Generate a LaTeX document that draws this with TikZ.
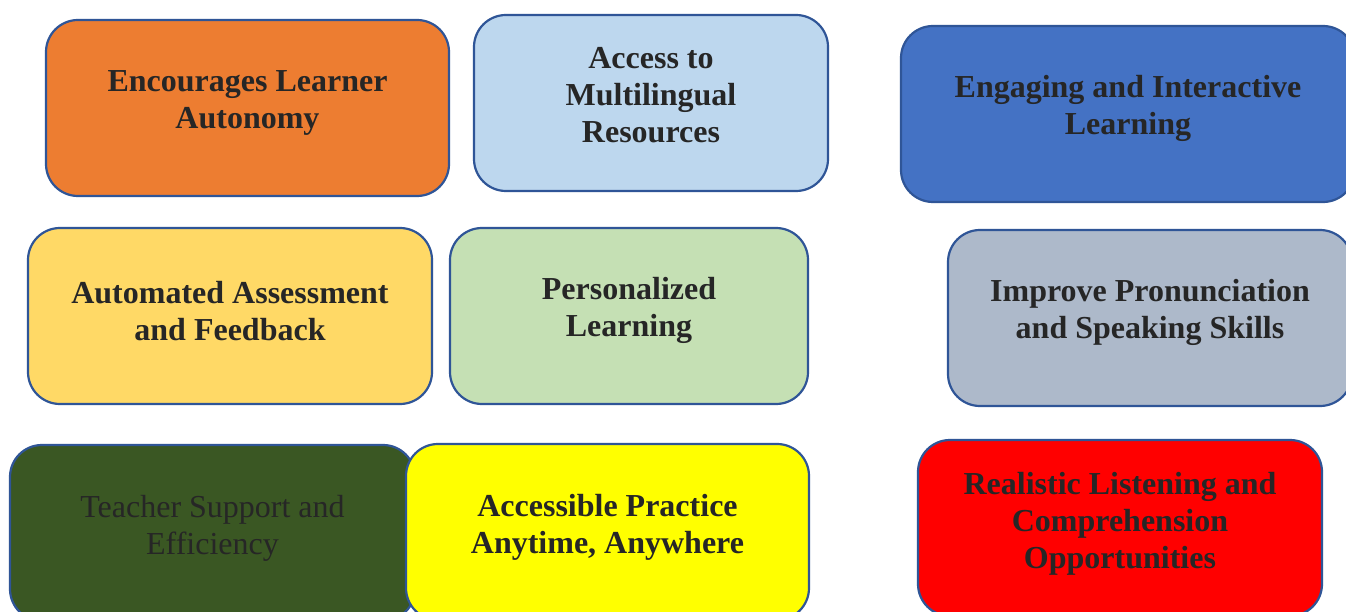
\documentclass[tikz,border=0pt]{standalone}
\usepackage{fontspec}
\setmainfont{Liberation Serif}
\definecolor{bordc}{HTML}{2F5597}
\definecolor{txtc}{HTML}{262626}
\definecolor{cOrange}{HTML}{ED7D31}
\definecolor{cLBlue}{HTML}{BDD7EE}
\definecolor{cBlue}{HTML}{4472C4}
\definecolor{cLYellow}{HTML}{FFD966}
\definecolor{cLGreen}{HTML}{C5E0B4}
\definecolor{cGray}{HTML}{ADB9CA}
\definecolor{cDGreen}{HTML}{3A5723}
\definecolor{cYellow}{HTML}{FFFF00}
\definecolor{cRed}{HTML}{FF0000}
\begin{document}
\begin{tikzpicture}[x=1pt,y=-1pt,
  boxstyle/.style={draw=bordc, line width=2.2pt, rounded corners=32pt, inner sep=0pt, minimum height=176pt},
  txtstyle/.style={text=txtc, align=center, font=\fontsize{32}{37}\selectfont\bfseries, inner sep=0pt},
  plaintxt/.style={text=txtc, align=center, font=\fontsize{32}{37}\selectfont, inner sep=0pt}]
\clip (0,0) rectangle (1346,612);
\fill[white] (0,0) rectangle (1346,612);
% boxes
\node[boxstyle, fill=cOrange, minimum width=403pt] (b1) at (247.5,108) {};
\node[boxstyle, fill=cLBlue, minimum width=354pt] (b2) at (651,103) {};
\node[boxstyle, fill=cBlue, minimum width=454pt] (b3) at (1128,114) {};
\node[boxstyle, fill=cLYellow, minimum width=404pt] (b4) at (230,316) {};
\node[boxstyle, fill=cLGreen, minimum width=358pt] (b5) at (629,316) {};
\node[boxstyle, fill=cGray, minimum width=404pt] (b6) at (1150,318) {};
\node[boxstyle, fill=cDGreen, minimum width=405pt] (b7) at (212.5,533) {};
\node[boxstyle, fill=cYellow, minimum width=403pt] (b8) at (607.5,532) {};
\node[boxstyle, fill=cRed, minimum width=404pt] (b9) at (1120,528) {};
% texts
\node[txtstyle] (t1) at ([yshift=-84pt]b1.north) {Encourages Learner\\Autonomy};
\node[txtstyle] (t2) at ([yshift=-81pt]b2.north) {Access to\\Multilingual\\Resources};
\node[txtstyle] (t3) at ([yshift=-84pt]b3.north) {Engaging and Interactive\\Learning};
\node[txtstyle] (t4) at ([yshift=-84pt]b4.north) {Automated Assessment\\and Feedback};
\node[txtstyle] (t5) at ([yshift=-84pt]b5.north) {Personalized\\Learning};
\node[txtstyle] (t6) at ([yshift=-84pt]b6.north) {Improve Pronunciation\\and Speaking Skills};
\node[plaintxt] (t7) at ([yshift=-84pt]b7.north) {Teacher Support and\\Efficiency};
\node[txtstyle] (t8) at ([yshift=-84pt]b8.north) {Accessible Practice\\Anytime, Anywhere};
\node[txtstyle] (t9) at ([yshift=-85pt]b9.north) {Realistic Listening and\\Comprehension\\Opportunities};
\end{tikzpicture}
\end{document}
